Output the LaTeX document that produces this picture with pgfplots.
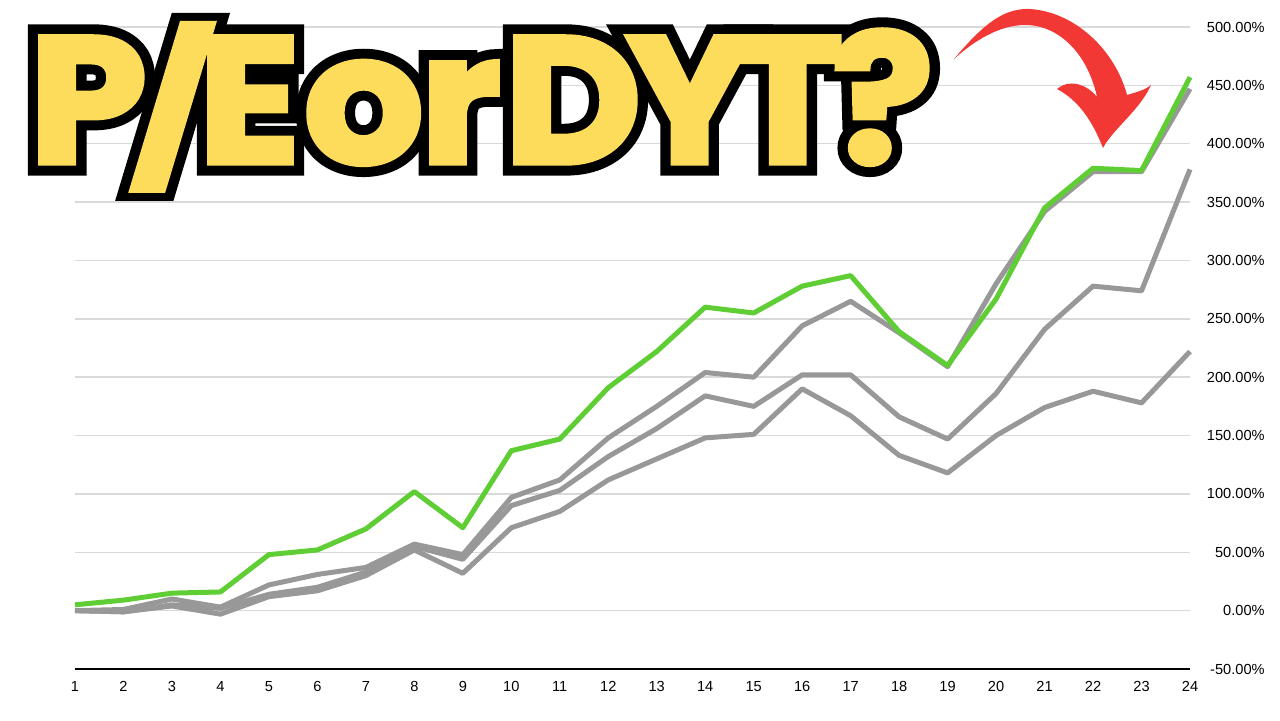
\documentclass[border=0pt]{standalone}
\usepackage{pgfplots}
\pgfplotsset{compat=1.18}
\usepackage{fontspec}
\setmainfont{Liberation Sans}
\newfontfamily\titlefont{Poppins}[BoldFeatures={FakeBold=3}]
\newfontfamily\titleblack{Poppins}[BoldFeatures={FakeBold=14}]

\definecolor{lgreen}{RGB}{94,206,52}
\definecolor{lgray}{RGB}{152,152,152}
\definecolor{gridc}{RGB}{217,217,217}
\definecolor{ttlyellow}{RGB}{253,220,92}
\definecolor{arrowred}{RGB}{242,56,52}

\newcommand\ttltext{P\kern-0.09em\smash{\scalebox{1}[0.82]{/}}\kern-0.09em E\kern0.02em o\kern-0.02em r\kern0.02em D\kern-0.08em Y\kern-0.11em T\kern-0.06em ?}
\newcommand\ttl{\resizebox{452pt}{66.5pt}{\titlefont\bfseries\ttltext}}
\newcommand\ttlblk{\resizebox{452pt}{66.5pt}{\titleblack\bfseries\ttltext}}

\begin{document}
\begin{tikzpicture}
\useasboundingbox (0,0) rectangle (640pt,360pt);
\fill[white] (0,0) rectangle (640pt,360pt);

\begin{axis}[
  at={(37.5pt,25.5pt)}, anchor=south west,
  scale only axis, width=557.5pt, height=321pt,
  xmin=1, xmax=24, ymin=-50, ymax=500,
  axis line style={draw=none},
  tick style={draw=none},
  xtick={1,...,24},
  xticklabels={1,2,3,4,5,6,7,8,9,10,11,12,13,14,15,16,17,18,19,20,21,22,23,24},
  ytick={-50,0,50,100,150,200,250,300,350,400,450,500},
  yticklabels={-50.00\%,0.00\%,50.00\%,100.00\%,150.00\%,200.00\%,250.00\%,300.00\%,350.00\%,400.00\%,450.00\%,500.00\%},
  yticklabel pos=right,
  ticklabel style={font=\fontsize{7.3}{8}\selectfont},
  yticklabel style={anchor=east, inner sep=0pt, xshift=37.5pt},
  xticklabel style={yshift=-2.5pt},
  ymajorgrids, grid style={gridc, line width=0.7pt},
  clip=false,
]
% the three grey series
\addplot[lgray, line width=2.5pt, line join=round] coordinates {
(1,0) (2,1) (3,10) (4,3) (5,22) (6,31) (7,37) (8,57) (9,48) (10,97) (11,112) (12,148)
(13,175) (14,204) (15,200) (16,244) (17,265) (18,238) (19,209) (20,280) (21,342) (22,376) (23,376) (24,447)
};
\addplot[lgray, line width=2.5pt, line join=round] coordinates {
(1,0) (2,-1) (3,5) (4,2) (5,14) (6,20) (7,33) (8,55) (9,44) (10,90) (11,103) (12,132)
(13,156) (14,184) (15,175) (16,202) (17,202) (18,166) (19,147) (20,186) (21,241) (22,278) (23,274) (24,378)
};
\addplot[lgray, line width=2.5pt, line join=round] coordinates {
(1,0) (2,-1) (3,4) (4,-3) (5,12) (6,17) (7,30) (8,52) (9,32) (10,71) (11,85) (12,112)
(13,130) (14,148) (15,151) (16,190) (17,167) (18,133) (19,118) (20,150) (21,174) (22,188) (23,178) (24,222)
};
% green series on top
\addplot[lgreen, line width=2.5pt, line join=round] coordinates {
(1,5) (2,9) (3,15) (4,16) (5,48) (6,52) (7,70) (8,102) (9,71) (10,137) (11,147) (12,191)
(13,222) (14,260) (15,255) (16,278) (17,287) (18,239) (19,210) (20,267) (21,345) (22,379) (23,377) (24,457)
};
\draw[black, line width=1pt] (axis cs:1,-50) -- (axis cs:24,-50);
\end{axis}

% title and arrow, in pixel coordinates (y down)
\begin{scope}[x=0.5pt, y=-0.5pt, shift={(0pt,360pt)}]
  \node[anchor=base west, inner sep=0pt, text=black] at (29,163) {\ttlblk};
  \node[anchor=base west, inner sep=0pt, text=ttlyellow] at (29,163) {\ttl};

  \fill[arrowred] (954,59) .. controls (985,22) and (1005,8) .. (1030,9)
    .. controls (1075,12) and (1115,50) .. (1127,95)
    .. controls (1137,92) and (1145,90) .. (1151,85)
    .. controls (1140,110) and (1112,130) .. (1103,148)
    .. controls (1092,120) and (1078,100) .. (1057,89)
    .. controls (1070,78) and (1088,85) .. (1097,97)
    .. controls (1088,55) and (1060,25) .. (1025,25)
    .. controls (1000,25) and (975,40) .. (954,59) -- cycle;
\end{scope}
\end{tikzpicture}
\end{document}
